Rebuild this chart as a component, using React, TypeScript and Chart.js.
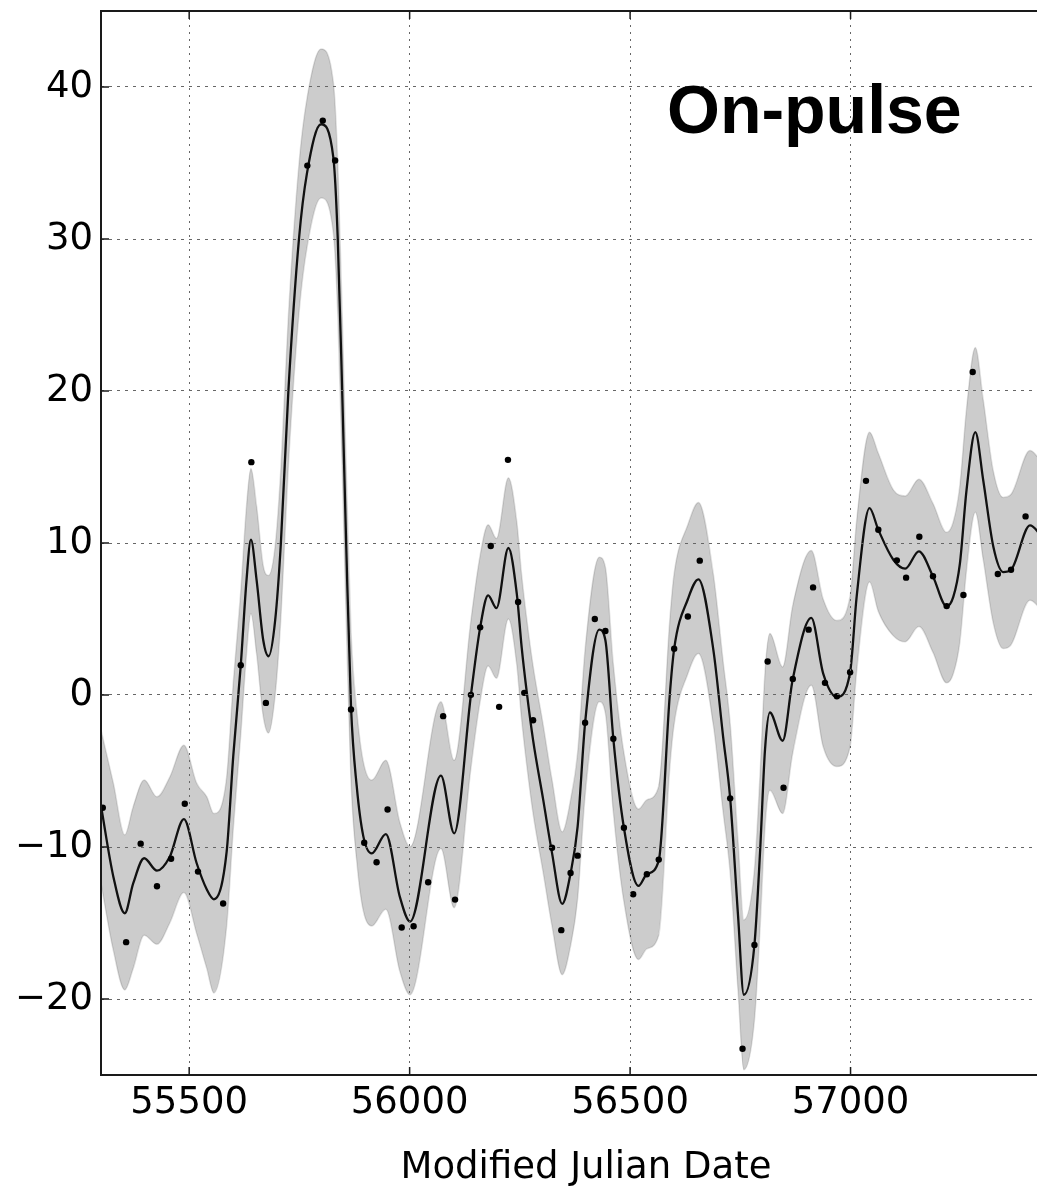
import React, { useEffect, useRef } from "react";
import { Chart, registerables } from "chart.js";

Chart.register(...registerables);

// Observed points (MJD, value)
const obsMjd = [
  55304, 55357, 55390, 55427, 55459, 55490, 55520, 55577, 55617, 55641,
  55674, 55768, 55803, 55831, 55867, 55897, 55925, 55950, 55982, 56009,
  56042, 56076, 56103, 56139, 56160, 56184, 56203, 56223, 56246, 56260,
  56280, 56323, 56344, 56365, 56381, 56398, 56420, 56444, 56462, 56486,
  56507, 56538, 56565, 56600, 56631, 56658, 56727, 56755, 56782, 56812,
  56848, 56869, 56905, 56915, 56942, 56969, 56999, 57035, 57063, 57105,
  57126, 57156, 57187, 57218, 57256, 57277, 57334, 57364, 57397,
];
const obsValue = [
  -7.42, -16.26, -9.78, -12.58, -10.77, -7.15, -11.62, -13.72, 1.96, 15.32,
  -0.52, 34.83, 37.79, 35.16, -0.95, -9.72, -11.0, -7.53, -15.3, -15.21,
  -12.32, -1.39, -13.46, 0.01, 4.45, 9.8, -0.78, 15.47, 6.12, 0.14,
  -1.66, -10.05, -15.47, -11.71, -10.57, -1.83, 5.0, 4.21, -2.88, -8.73,
  -13.11, -11.79, -10.83, 3.05, 5.16, 8.84, -6.8, -23.27, -16.44, 2.2,
  -6.1, 1.06, 4.3, 7.08, 0.8, -0.08, 1.5, 14.09, 10.87, 8.86,
  7.72, 10.41, 7.81, 5.85, 6.58, 21.25, 7.96, 8.24, 11.75,
];

// Smooth model curve and its band, read at knots
const gpMjd = [
  55300, 55328, 55354, 55373, 55398, 55427, 55456, 55488, 55517, 55540,
  55556, 55585, 55600, 55617, 55630, 55640, 55653, 55668, 55680, 55695,
  55708, 55725, 55749, 55767, 55799, 55827, 55837, 55847, 55856, 55867,
  55880, 55895, 55914, 55946, 55978, 56001, 56071, 56101, 56139, 56160,
  56178, 56197, 56224, 56243, 56254, 56266, 56280, 56303, 56323, 56346,
  56365, 56381, 56398, 56430, 56444, 56462, 56486, 56519, 56538, 56565,
  56590, 56600, 56631, 56655, 56689, 56711, 56727, 56745, 56758, 56782,
  56795, 56806, 56817, 56846, 56869, 56911, 56938, 56969, 56999, 57014,
  57043, 57063, 57097, 57124, 57155, 57187, 57218, 57233, 57248, 57263,
  57283, 57301, 57324, 57346, 57364, 57407, 57423, 57440,
];
const gpMean = [
  -7.3, -11.95, -14.36, -12.4, -10.74, -11.56, -10.64, -8.16, -11.07, -12.8,
  -13.44, -10.3, -4.0, 1.96, 7.54, 10.22, 7.54, 3.6, 2.55, 4.91,
  10.0, 20.0, 30.0, 34.3, 37.55, 35.36, 30.0, 20.0, 10.0, -0.75,
  -6.0, -9.3, -10.42, -9.15, -13.3, -14.91, -5.31, -9.1, 0.0, 4.45,
  6.56, 5.72, 9.67, 6.67, 3.16, 0.1, -2.97, -6.9, -10.4, -13.74,
  -11.73, -8.66, -1.83, 4.3, 3.6, -2.88, -8.73, -12.56, -11.79, -10.9,
  0.0, 3.05, 6.3, 7.61, 2.94, -2.75, -6.8, -14.58, -19.72, -16.44,
  -10.2, -3.6, -1.15, -3.01, 1.06, 5.07, 1.41, -0.13, 1.5, 6.5,
  12.29, 10.87, 8.9, 8.31, 9.45, 7.8, 5.83, 6.45, 8.64, 13.46,
  17.29, 14.11, 9.73, 8.09, 8.24, 11.16, 10.8, 10.0,
];
const gpUpper = [
  -2.3, -5.8, -9.2, -7.35, -5.6, -6.7, -5.4, -3.3, -5.8, -6.7,
  -7.8, -5.4, 0.8, 6.8, 12.4, 14.9, 12.4, 8.5, 7.87, 9.8,
  14.9, 24.9, 34.9, 39.2, 42.5, 40.3, 35.0, 25.0, 15.0, 4.2,
  -1.0, -4.4, -5.6, -4.3, -8.4, -9.98, -0.45, -4.3, 4.9, 9.2,
  11.2, 10.3, 14.3, 11.4, 7.9, 4.9, 1.9, -2.0, -5.6, -9.0,
  -6.9, -3.8, 3.0, 9.07, 8.4, 2.0, -3.8, -7.5, -6.9, -6.0,
  4.9, 8.0, 11.2, 12.67, 7.9, 2.2, -1.9, -9.7, -14.8, -11.5,
  -5.1, 1.5, 4.04, 1.85, 5.9, 9.5, 6.3, 4.9, 6.5, 11.5,
  17.29, 15.9, 13.5, 13.1, 14.2, 12.6, 10.7, 11.4, 13.8, 18.8,
  22.87, 19.4, 14.7, 13.0, 13.2, 16.08, 15.7, 14.9,
];
const gpLower = [
  -12.4, -16.8, -19.4, -18.0, -15.8, -16.4, -15.0, -13.0, -15.7, -18.0,
  -19.6, -15.2, -8.8, -2.6, 2.7, 5.35, 2.7, -1.4, -2.5, 0.0,
  5.1, 15.1, 25.1, 29.4, 32.7, 30.4, 25.1, 15.1, 5.1, -5.6,
  -10.9, -14.2, -15.2, -14.1, -18.2, -19.72, -10.1, -14.0, -4.8, -0.4,
  1.9, 1.1, 5.0, 2.0, -1.6, -4.7, -7.8, -11.7, -15.2, -18.4,
  -16.5, -13.4, -6.6, -0.45, -1.2, -7.7, -13.6, -17.4, -16.7, -15.8,
  -4.8, -1.9, 1.4, 2.73, -2.0, -7.7, -11.7, -19.5, -24.65, -21.4,
  -15.2, -8.7, -6.26, -7.8, -3.8, 0.64, -3.4, -4.7, -3.4, 1.6,
  7.43, 5.5, 3.9, 3.5, 4.5, 2.8, 0.8, 1.4, 3.5, 8.2,
  12.03, 8.9, 4.7, 3.06, 3.3, 6.23, 5.9, 5.1,
];

const xTicks = [55500, 56000, 56500, 57000];
const yTicks = [-20, -10, 0, 10, 20, 30, 40];
const xTitle = "Modified Julian Date";
const panelLabel = "On-pulse";

const X_MIN = 55300;
const X_MAX = 57500;
const Y_MIN = -25;
const Y_MAX = 45;

const CANVAS_W = 1080;
const CANVAS_H = 1189;

const framePlugin = {
  id: "frame",
  afterDraw(chart: any) {
    const { ctx, chartArea, scales } = chart;
    const { left, right, top, bottom } = chartArea;
    const x = scales.x;
    const y = scales.y;
    ctx.save();
    ctx.strokeStyle = "#1a1a1a";
    ctx.lineWidth = 2;
    ctx.beginPath();
    ctx.rect(left, top, right - left, bottom - top);
    ctx.stroke();
    ctx.lineWidth = 1.5;
    ctx.beginPath();
    const tl = 8;
    xTicks.forEach((v) => {
      const px = x.getPixelForValue(v);
      ctx.moveTo(px, bottom);
      ctx.lineTo(px, bottom - tl);
      ctx.moveTo(px, top);
      ctx.lineTo(px, top + tl);
    });
    yTicks.forEach((v) => {
      const py = y.getPixelForValue(v);
      ctx.moveTo(left, py);
      ctx.lineTo(left + tl, py);
      ctx.moveTo(right, py);
      ctx.lineTo(right - tl, py);
    });
    ctx.stroke();
    ctx.fillStyle = "#000";
    ctx.font = 'bold 68px "Liberation Sans", Arial, sans-serif';
    ctx.textAlign = "left";
    ctx.textBaseline = "alphabetic";
    ctx.fillText(panelLabel, 667, 133);
    ctx.restore();
  },
};

export default function App() {
  const ref = useRef<HTMLCanvasElement | null>(null);

  useEffect(() => {
    const canvas = ref.current;
    if (!canvas) return;
    const toPts = (xs: number[], ys: number[]) => xs.map((v, i) => ({ x: v, y: ys[i] }));
    const tickFont = { family: '"DejaVu Sans", sans-serif', size: 37 };
    const chart = new Chart(canvas, {
      type: "line",
      data: {
        datasets: [
          {
            label: "upper",
            data: toPts(gpMjd, gpUpper),
            borderColor: "rgba(0,0,0,0.12)",
            borderWidth: 1.5,
            backgroundColor: "rgba(0,0,0,0.2)",
            fill: "+1",
            pointRadius: 0,
            cubicInterpolationMode: "monotone",
            order: 4,
          },
          {
            label: "lower",
            data: toPts(gpMjd, gpLower),
            borderColor: "rgba(0,0,0,0.12)",
            borderWidth: 1.5,
            fill: false,
            pointRadius: 0,
            cubicInterpolationMode: "monotone",
            order: 3,
          },
          {
            label: "mean",
            data: toPts(gpMjd, gpMean),
            borderColor: "#111",
            borderWidth: 2.3,
            fill: false,
            pointRadius: 0,
            cubicInterpolationMode: "monotone",
            order: 2,
          },
          {
            label: "data",
            data: toPts(obsMjd, obsValue),
            showLine: false,
            pointRadius: 3.2,
            pointBackgroundColor: "#000",
            pointBorderColor: "#000",
            pointBorderWidth: 0,
            order: 1,
          },
        ],
      } as any,
      options: {
        responsive: false,
        animation: false,
        devicePixelRatio: 1,
        layout: { padding: { top: 11, right: CANVAS_W - 1071, left: 0, bottom: 0 } },
        plugins: { legend: { display: false }, tooltip: { enabled: false } },
        scales: {
          x: {
            type: "linear",
            min: X_MIN,
            max: X_MAX,
            afterFit: (s: any) => {
              s.height = CANVAS_H - 1075;
              s.paddingLeft = 0;
              s.paddingRight = 0;
            },
            afterBuildTicks: (s: any) => {
              s.ticks = xTicks.map((v) => ({ value: v }));
            },
            ticks: {
              color: "#000",
              font: tickFont,
              padding: 6,
              maxRotation: 0,
              autoSkip: false,
              callback: (v: any) => String(v),
            },
            grid: {
              color: "#666",
              lineWidth: 1,
              drawTicks: false,
              z: 1,
            },
            border: { display: false, dash: [2, 5] },
            title: {
              display: true,
              text: xTitle,
              color: "#000",
              font: { family: '"DejaVu Sans", sans-serif', size: 37, lineHeight: 1 },
              padding: { top: 0, bottom: 2 },
            },
          },
          y: {
            type: "linear",
            min: Y_MIN,
            max: Y_MAX,
            afterFit: (s: any) => {
              s.width = 101;
              s.paddingTop = 0;
              s.paddingBottom = 0;
            },
            afterBuildTicks: (s: any) => {
              s.ticks = yTicks.map((v) => ({ value: v }));
            },
            ticks: {
              color: "#000",
              font: tickFont,
              padding: 8,
              autoSkip: false,
              callback: (v: any) => (v < 0 ? "\u2212" + Math.abs(v) : String(v)),
            },
            grid: {
              color: "#666",
              lineWidth: 1,
              drawTicks: false,
              z: 1,
            },
            border: { display: false, dash: [3, 5] },
          },
        },
      } as any,
      plugins: [framePlugin],
    });
    return () => chart.destroy();
  }, []);

  return (
    <div
      style={{
        position: "fixed",
        left: 0,
        top: 0,
        width: 1037,
        height: CANVAS_H,
        overflow: "hidden",
        background: "#fff",
      }}
    >
      <canvas
        ref={ref}
        width={CANVAS_W}
        height={CANVAS_H}
        style={{ width: CANVAS_W, height: CANVAS_H, display: "block" }}
      />
    </div>
  );
}
